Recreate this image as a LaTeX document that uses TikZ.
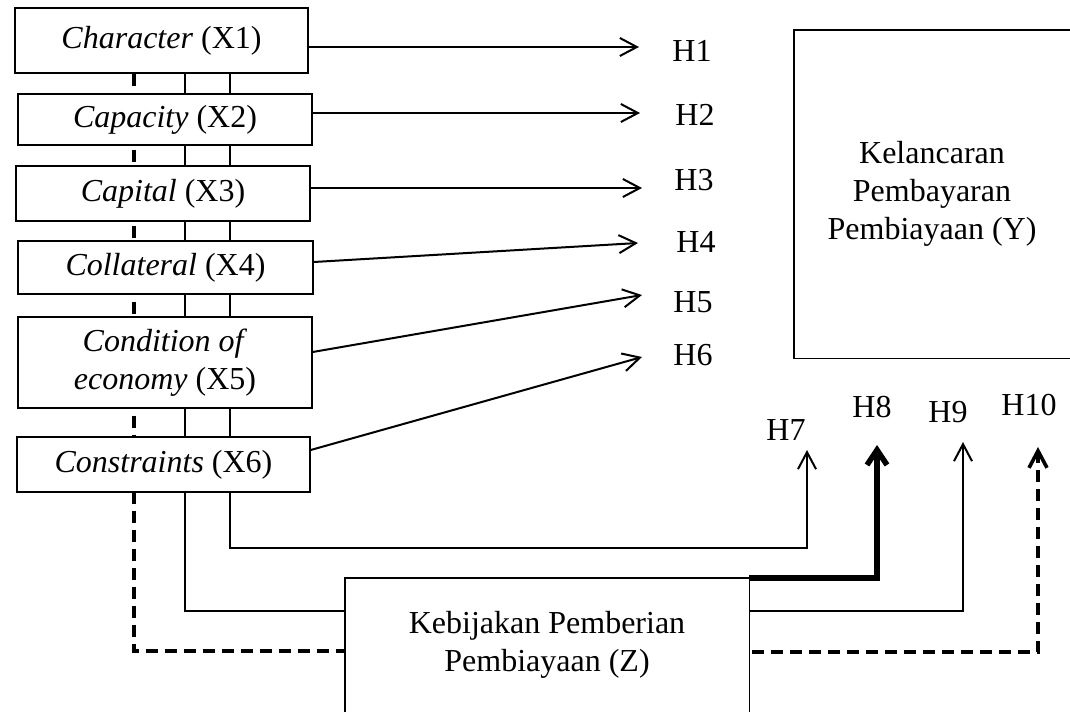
\documentclass[tikz,border=0pt]{standalone}
\usepackage{fontspec}
\setmainfont{Liberation Serif}
\usetikzlibrary{arrows.meta,backgrounds}
\begin{document}
\begin{tikzpicture}[x=1pt,y=-1pt,
  txt/.style={font=\fontsize{32}{38}\selectfont},
  box/.style={txt,draw,fill=white,line width=1.4pt,inner sep=0pt,align=center},
  open/.style={txt,inner sep=0pt,align=center},
  lbl/.style={txt,inner sep=0pt},
  conn/.style={line width=2pt},
  thickconn/.style={line width=5.5pt},
  dashline/.style={line width=3.6pt,dash pattern=on 12pt off 7pt},
  arr/.style={-{Straight Barb[length=17pt,width=18pt]}},
  bigarr/.style={-{Straight Barb[length=15pt,width=20pt]}}
]
\useasboundingbox (0,0) rectangle (1070,712);

% left boxes
\node[box,minimum width=293pt,minimum height=65pt] (X1) at (161.5,40.5) {\textit{Character} (X1)};
\node[box,minimum width=294pt,minimum height=51pt] (X2) at (165,119.5) {\textit{Capacity} (X2)};
\node[box,minimum width=294pt,minimum height=55pt] (X3) at (163,193.5) {\textit{Capital} (X3)};
\node[box,minimum width=295pt,minimum height=53pt] (X4) at (165.5,267.5) {\textit{Collateral} (X4)};
\node[box,minimum width=294pt,minimum height=91pt] (X5) at (165,362.5) {\textit{Condition of}\\\textit{economy} (X5)};
\node[box,minimum width=293pt,minimum height=55pt] (X6) at (163.5,464.5) {\textit{Constraints} (X6)};

% Y box (right side cut by the page edge)
\node[open,minimum width=276pt,minimum height=328pt] (Y) at (932,194) {Kelancaran\\Pembayaran\\Pembiayaan (Y)};
\draw[line width=1.4pt] (Y.north east) -- (Y.north west) -- (Y.south west) -- (Y.south east);

% Z box (bottom cut by the page edge)
\node[open,minimum width=404pt,minimum height=134pt] (Z) at (547,645) {Kebijakan Pemberian\\Pembiayaan (Z)};
\draw[line width=1.4pt] (Z.south west) -- (Z.north west) -- (Z.north east) -- (Z.south east);

% hypothesis labels
\node[lbl] (H1) at (692,51) {H1};
\node[lbl] (H2) at (695,115) {H2};
\node[lbl] (H3) at (694,180) {H3};
\node[lbl] (H4) at (696,242) {H4};
\node[lbl] (H5) at (693,302) {H5};
\node[lbl] (H6) at (693,355) {H6};
\node[lbl] (H7) at (786,430) {H7};
\node[lbl] (H8) at (872,407) {H8};
\node[lbl] (H9) at (948,412) {H9};
\node[lbl] (H10) at (1029,405) {H10};

% arrow tips
\coordinate (t1) at (639,47);
\coordinate (t2) at (640,113);
\coordinate (t3) at (642,188);
\coordinate (t4) at (638,243);
\coordinate (t5) at (642,295);
\coordinate (t6) at (642,357);
\coordinate (t7) at (807,450);
\coordinate (t8) at (877,445);
\coordinate (t9) at (963,442);
\coordinate (t10) at (1038,447);

% direct arrows
\draw[conn,arr] (X1.east |- t1) -- (t1);
\draw[conn,arr] (X2.east |- t2) -- (t2);
\draw[conn,arr] (X3.east |- t3) -- (t3);
\draw[conn,arr] ([yshift=5.5pt]X4.east) -- (t4);
\draw[conn,arr] ([yshift=10.5pt]X5.east) -- (t5);
\draw[conn,arr] ([yshift=14.5pt]X6.east) -- (t6);

\begin{pgfonlayer}{background}
  \draw[dashline] (X1.south -| 134,0) -- (134,651) -- (Z.west |- 0,651);
  \draw[conn] (X1.south -| 185,0) -- (185,611) -- (Z.west |- 0,611);
  \draw[conn,arr] (X1.south -| 230,0) -- (230,548) -- (t7 |- 0,548) -- (t7);
\end{pgfonlayer}

% moderation arrows from Z
\draw[thickconn,bigarr] (Z.north east) -- (t8 |- Z.north) -- (t8);
\draw[conn,arr] (Z.east |- 0,611) -- (t9 |- 0,611) -- (t9);
\draw[dashline,arr] ([xshift=3pt]Z.east |- 0,652) -- (t10 |- 0,652) -- (t10);
\end{tikzpicture}
\end{document}
